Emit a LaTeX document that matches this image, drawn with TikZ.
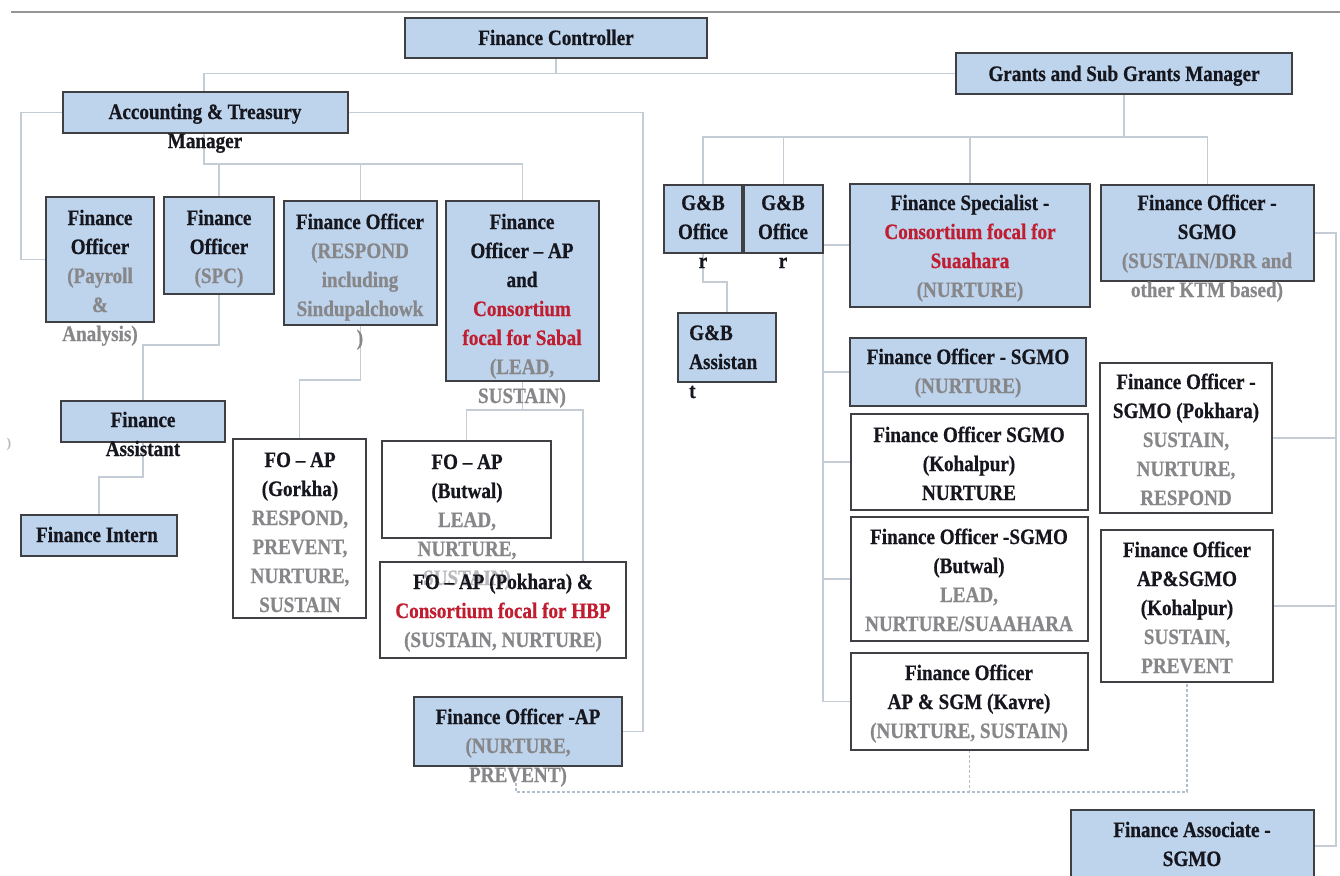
\documentclass[tikz,border=0pt]{standalone}
\usepackage{fontspec}
\setmainfont[FakeStretch=0.87, BoldFeatures={FakeBold=0.6}]{Liberation Serif}
\usetikzlibrary{backgrounds}
\definecolor{boxblue}{RGB}{190,212,236}
\definecolor{edgec}{RGB}{62,64,68}
\definecolor{connc}{RGB}{196,205,214}
\definecolor{dashc}{RGB}{178,190,204}
\definecolor{inkc}{RGB}{22,22,30}
\definecolor{gryc}{RGB}{135,135,138}
\definecolor{faintc}{RGB}{185,185,188}
\definecolor{redc}{RGB}{192,30,48}
\definecolor{topc}{RGB}{150,150,150}
\newcommand\gy[1]{\textcolor{gryc}{#1}}
\newcommand\rd[1]{\textcolor{redc}{#1}}
\newcommand\fnt[1]{\textcolor{faintc}{#1}}
\newcommand\lns[1]{\begin{tabular}[t]{@{}c@{}}#1\end{tabular}}
\newcommand\llns[1]{\begin{tabular}[t]{@{}l@{}}#1\end{tabular}}
\newcommand\mkbox[6]{\node[#1, minimum width={(#5-#3)*1pt}, minimum height={(#6-#4)*1pt}] (#2) at ({(#3+#5)/2},{(#4+#6)/2}) {};}
\begin{document}
\begin{tikzpicture}[x=1pt,y=-1pt,
  conn/.style={draw=connc, line width=1.3pt},
  dconn/.style={draw=dashc, line width=1.3pt, dash pattern=on 3pt off 2pt},
  bbox/.style={rectangle, draw=edgec, line width=1.8pt, fill=boxblue, inner sep=0pt, outer sep=0pt},
  wbox/.style={rectangle, draw=edgec, line width=1.8pt, fill=white, inner sep=0pt, outer sep=0pt},
  lbl/.style={anchor=base, inner sep=0pt, font=\fontsize{22}{29}\selectfont\bfseries, text=inkc},
  topline/.style={draw=topc, line width=1.4pt}]
\useasboundingbox (0,0) rectangle (1340,875);
\draw[topline] (11,12) -- (1340,12);

% ---------- boxes ----------
\mkbox{bbox}{FC}{405}{18}{707}{58}
\mkbox{bbox}{ATM}{63}{92}{348}{133}
\mkbox{bbox}{GSM}{956}{53}{1292}{94}
\mkbox{bbox}{PAY}{46}{197}{154}{322}
\mkbox{bbox}{SPC}{164}{197}{274}{294}
\mkbox{bbox}{RES}{284}{201}{437}{325}
\mkbox{bbox}{SAB}{446}{201}{599}{381}
\mkbox{bbox}{FA}{61}{401}{225}{442}
\mkbox{bbox}{INT}{21}{515}{177}{556}
\mkbox{wbox}{GOR}{233}{439}{366}{618}
\mkbox{wbox}{BUT}{382}{441}{551}{538}
\mkbox{wbox}{POK}{380}{562}{626}{658}
\mkbox{bbox}{FOAP}{414}{697}{622}{766}
\mkbox{bbox}{GB1}{664}{185}{742}{253}
\mkbox{bbox}{GB2}{744}{185}{823}{253}
\mkbox{bbox}{GBA}{678}{313}{776}{382}
\mkbox{bbox}{FS}{850}{184}{1090}{307}
\mkbox{bbox}{FOS}{1101}{185}{1314}{281}
\mkbox{bbox}{FSN}{850}{338}{1086}{406}
\mkbox{wbox}{KOH}{851}{414}{1088}{510}
\mkbox{wbox}{BSG}{851}{517}{1088}{641}
\mkbox{wbox}{KAV}{851}{653}{1088}{750}
\mkbox{wbox}{PSG}{1100}{363}{1272}{513}
\mkbox{wbox}{KAS}{1101}{530}{1273}{682}
\mkbox{bbox}{ASC}{1071}{810}{1314}{882}

% ---------- connectors ----------
\begin{scope}[on background layer]
  \coordinate (jA) at (204,73.5);
  \coordinate (jB) at (204,164);
  \draw[conn] (FC.south) |- (GSM.west);
  \draw[conn] (FC.south |- jA) -- (jA) -- (jB) -| (SAB.north);
  \draw[conn] (SPC.north) -- (SPC.north |- jB);
  \draw[conn] (RES.north) -- (RES.north |- jB);
  \draw[conn] (ATM.west) -- ++(-42,0) |- (PAY.west);
  \coordinate (cR) at (643,0);
  \draw[conn] (ATM.east) -| (cR |- FOAP.east) -- (FOAP.east);
  \draw[conn] (SPC.south) -- ++(0,51) -| (FA.north);
  \draw[conn] (FA.south) -- ++(0,35) -| (INT.north);
  \draw[conn] (RES.south) -- ++(0,55) -| (GOR.north);
  \draw[conn] (SAB.south) -- ++(0,29) coordinate (jS);
  \coordinate (pk) at (583,562);
  \draw[conn] (BUT.north) |- (jS) -| (pk);
  % grants side
  \draw[conn] (GSM.south) -- ++(0,43) coordinate (jG);
  \draw[conn] (GB1.north) |- (jG) -| (FOS.north);
  \draw[conn] (GB2.north) -- (GB2.north |- jG);
  \draw[conn] (FS.north) -- (FS.north |- jG);
  \draw[conn] (GB1.south) -- ++(0,29) -| (GBA.north);
  \coordinate (jV) at (823,245);
  \draw[conn] (FS.west |- jV) -- (jV) |- (KAV.west);
  \draw[conn] (jV |- FSN.west) -- (FSN.west);
  \draw[conn] (jV |- KOH.west) -- (KOH.west);
  \draw[conn] (jV |- BSG.west) -- (BSG.west);
  \coordinate (jR) at (1336,233);
  \draw[conn] (FOS.east) -- (jR) |- (ASC.east);
  \draw[conn] (PSG.east) -- (PSG.east -| jR);
  \draw[conn] (KAS.east) -- (KAS.east -| jR);
  % dashed
  \coordinate (dA) at (516,778);
  \coordinate (dB) at (0,792);
  \draw[dconn] (dA) |- (dB -| KAS.south) -- (KAS.south);
  \draw[dconn] (KAV.south) -- (KAV.south |- dB);
\end{scope}

% ---------- texts ----------
\node[lbl] (tFC) at (556,45) {\lns{Finance Controller}};
\node[lbl] (tATM) at (205,119) {\lns{Accounting \& Treasury\\Manager}};
\node[lbl] (tGSM) at (1124,81) {\lns{Grants and Sub Grants Manager}};
\node[lbl] (tPAY) at (100,225) {\lns{Finance\\Officer\\\gy{(Payroll}\\\gy{\&}\\\gy{Analysis)}}};
\node[lbl] (tSPC) at (219,225) {\lns{Finance\\Officer\\\gy{(SPC)}}};
\node[lbl] (tRES) at (360,229) {\lns{Finance Officer\\\gy{(RESPOND}\\\gy{including}\\\gy{Sindupalchowk}\\\gy{)}}};
\node[lbl] (tSAB) at (522,229) {\lns{Finance\\Officer -- AP\\and\\\rd{Consortium}\\\rd{focal for Sabal}\\\gy{(LEAD,}\\\gy{SUSTAIN)}}};
\node[lbl] (tFA) at (143,427) {\lns{Finance\\Assistant}};
\node[lbl] (tINT) at (97,542) {\lns{Finance Intern}};
\node[lbl] (tGOR) at (300,467) {\lns{FO -- AP\\(Gorkha)\\\gy{RESPOND,}\\\gy{PREVENT,}\\\gy{NURTURE,}\\\gy{SUSTAIN}}};
\node[lbl] (tBUT) at (467,469) {\lns{FO -- AP\\(Butwal)\\\gy{LEAD,}\\\gy{NURTURE,}\\\fnt{SUSTAIN)}}};
\node[lbl] (tPOK) at (503,589) {\lns{FO -- AP (Pokhara) \&\\\rd{Consortium focal for HBP}\\\gy{(SUSTAIN, NURTURE)}}};
\node[lbl] (tFOAP) at (518,724) {\lns{Finance Officer -AP\\\gy{(NURTURE,}\\\gy{PREVENT)}}};
\node[lbl] (tGB1) at (703,210) {\lns{G\&B\\Office\\r}};
\node[lbl] (tGB2) at (783,210) {\lns{G\&B\\Office\\r}};
\node[lbl, anchor=base west] (tGBA) at (689,340) {\llns{G\&B\\Assistan\\t}};
\node[lbl] (tFS) at (970,210) {\lns{Finance Specialist -\\\rd{Consortium focal for}\\\rd{Suaahara}\\\gy{(NURTURE)}}};
\node[lbl] (tFOS) at (1207,210) {\lns{Finance Officer -\\SGMO\\\gy{(SUSTAIN/DRR and}\\\gy{other KTM based)}}};
\node[lbl] (tFSN) at (968,364) {\lns{Finance Officer - SGMO\\\gy{(NURTURE)}}};
\node[lbl] (tKOH) at (969,442) {\lns{Finance Officer SGMO\\(Kohalpur)\\NURTURE}};
\node[lbl] (tBSG) at (969,544) {\lns{Finance Officer -SGMO\\(Butwal)\\\gy{LEAD,}\\\gy{NURTURE/SUAAHARA}}};
\node[lbl] (tKAV) at (969,680) {\lns{Finance Officer\\AP \& SGM (Kavre)\\\gy{(NURTURE, SUSTAIN)}}};
\node[lbl] (tPSG) at (1186,389) {\lns{Finance Officer -\\SGMO (Pokhara)\\\gy{SUSTAIN,}\\\gy{NURTURE,}\\\gy{RESPOND}}};
\node[lbl] (tKAS) at (1187,557) {\lns{Finance Officer\\AP\&SGMO\\(Kohalpur)\\\gy{SUSTAIN,}\\\gy{PREVENT}}};
\node[lbl] (tASC) at (1192,837) {\lns{Finance Associate -\\SGMO}};
\node[anchor=base, inner sep=0pt, font=\fontsize{13}{15}\selectfont\bfseries, text=faintc] (stray) at (9,447) {)};
\end{tikzpicture}
\end{document}
